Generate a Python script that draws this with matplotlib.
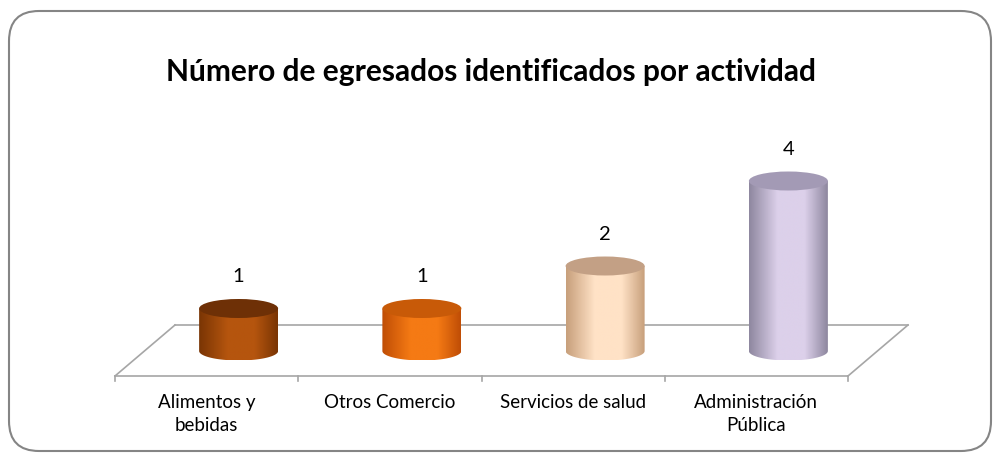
import numpy as np
import matplotlib.pyplot as plt
from matplotlib.patches import FancyBboxPatch, Ellipse, Polygon
from matplotlib.colors import LinearSegmentedColormap

plt.rcParams['font.family'] = ['Lato', 'DejaVu Sans']

# Data
categories = ["Alimentos y\nbebidas", "Otros Comercio", "Servicios de salud", "Administración\nPública"]
values = [1, 1, 2, 4]
title = "Número de egresados identificados por actividad"

# colours per cylinder: edge shade, highlight, top
edge_cols = ["#7A3504", "#C04E06", "#C8A07C", "#8F88A0"]
mid_cols = ["#B5550E", "#F57A14", "#FFE2C6", "#DCD0EA"]
top_cols = ["#6E3006", "#C85A08", "#C3A085", "#A39AB5"]

W, H = 1000, 455
fig = plt.figure(figsize=(W / 100, H / 100), dpi=100)
ax = fig.add_axes([0, 0, 1, 1])
ax.patch.set_alpha(0)

# one category = 183.25 px, one unit of value = 42.5 px
cat_px, unit_px = 183.25, 42.5
x0_px, y0_px = 115, 376

# depth of the floor (back edge offset)
dx, dy = 60 / cat_px, 51 / unit_px
n = len(values)
xl, xr = -0.5, n - 0.5

# rounded outer frame
frame = FancyBboxPatch((9 / W, 4 / H), 982 / W, 440 / H, boxstyle="round,pad=0,rounding_size=0.03",
                       transform=fig.transFigure, facecolor="none", edgecolor="#858585", lw=1.5,
                       mutation_aspect=W / H, zorder=0)
fig.patches.append(frame)

# floor
floor_col = "#A6A6A6"
ax.plot([xl + dx, xr + dx], [dy, dy], color=floor_col, lw=1.2, zorder=1)
ax.plot([xl, xr], [0, 0], color=floor_col, lw=1.2, zorder=1)
ax.plot([xl, xl + dx], [0, dy], color=floor_col, lw=1.2, zorder=1)
ax.plot([xr, xr + dx], [0, dy], color=floor_col, lw=1.2, zorder=1)
for t in np.arange(n + 1) - 0.5:
    ax.plot([t, t], [0, -5 / unit_px], color=floor_col, lw=1.2, zorder=1)

# cylinders
a, b = 39.5 / cat_px, 9.5 / unit_px
base = 25 / unit_px
shift = 32 / cat_px
tt = np.linspace(np.pi, 2 * np.pi, 60)
for i, v in enumerate(values):
    cx = i + shift
    top = base + v
    verts = [(cx - a, top), (cx - a, base)]
    verts += list(zip(cx + a * np.cos(tt), base + b * np.sin(tt)))
    verts += [(cx + a, top), (cx - a, top)]
    cmap = LinearSegmentedColormap.from_list("c%d" % i, [edge_cols[i], mid_cols[i], mid_cols[i], edge_cols[i]])
    grad = np.concatenate([np.linspace(0, 0.55, 60), np.linspace(0.55, 1, 40)])[None, :]
    im = ax.imshow(grad, cmap=cmap, aspect='auto', extent=(cx - a, cx + a, base - b, top),
                   interpolation='bilinear', zorder=3)
    clip = Polygon(verts, closed=True, transform=ax.transData, facecolor='none', edgecolor='none')
    ax.add_patch(clip)
    im.set_clip_path(clip)
    ax.add_patch(Ellipse((cx, top), 2 * a, 2 * b, facecolor=top_cols[i], edgecolor='none', zorder=4))
    ax.text(cx, top + 32 / unit_px, str(v), ha='center', va='center', fontsize=14.5, color='black', zorder=5)

# category labels
for i, lab in enumerate(categories):
    ax.text(i, -18 / unit_px, lab, ha='center', va='top', fontsize=13.5, linespacing=1.4, color='black')

ax.set_xlim(-0.5 - x0_px / cat_px, -0.5 + (W - x0_px) / cat_px)
ax.set_ylim(-(H - y0_px) / unit_px, y0_px / unit_px)
ax.axis('off')

fig.text(0.491, 1 - 72 / H, title, ha='center', va='center', fontsize=21.5, fontweight='bold')

fig.savefig("out.png", dpi=100)
